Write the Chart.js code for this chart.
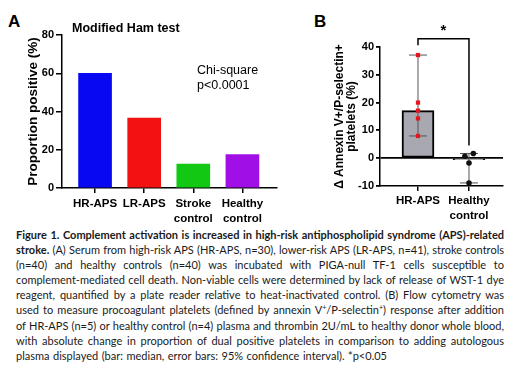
<!DOCTYPE html>
<html>
<head>
<meta charset="utf-8">
<script src="https://cdn.jsdelivr.net/npm/chart.js@4.4.1/dist/chart.umd.min.js"></script>
<style>
    body { margin: 0; width: 520px; height: 369px; background: #fff; position: relative; overflow: hidden; font-family: "Liberation Sans", Arial, sans-serif; }
    .panel-letter { position: absolute; top: 13px; font-weight: bold; font-size: 17px; line-height: 17px; color: #000; }
    .chart-box { position: absolute; top: 0; height: 225px; }
    #caption { position: absolute; left: 16px; top: 227px; width: 488px; font-family: Lato, "Open Sans", sans-serif; font-size: 11px; color: #1a1a1a; }
    .cap-line { height: 15.1px; line-height: 15.1px; white-space: nowrap; }
    .cap-line .txt { display: inline-block; transform-origin: left center; }
    sup { font-size: 0.65em; vertical-align: 0.5em; line-height: 0; }
</style>
</head>
<body>
<div class="panel-letter" style="left:8px">A</div>
<div class="panel-letter" style="left:314px">B</div>
<div class="chart-box" style="left:0; width:280px"><canvas id="hamChart" width="280" height="225"></canvas></div>
<div class="chart-box" style="left:280px; width:240px"><canvas id="plateletChart" width="240" height="225"></canvas></div>

<div id="caption">
    <div class="cap-line" data-w="488"><span class="txt"><b>Figure 1. Complement activation is increased in high-risk antiphospholipid syndrome (APS)-related</b></span></div>
    <div class="cap-line" data-w="488"><span class="txt"><b>stroke.</b> (A) Serum from high-risk APS (HR-APS, n=30), lower-risk APS (LR-APS, n=41), stroke controls</span></div>
    <div class="cap-line" data-w="488"><span class="txt">(n=40) and healthy controls (n=40) was incubated with PIGA-null TF-1 cells susceptible to</span></div>
    <div class="cap-line" data-w="488"><span class="txt">complement-mediated cell death. Non-viable cells were determined by lack of release of WST-1 dye</span></div>
    <div class="cap-line" data-w="488"><span class="txt">reagent, quantified by a plate reader relative to heat-inactivated control. (B) Flow cytometry was</span></div>
    <div class="cap-line" data-w="488"><span class="txt">used to measure procoagulant platelets (defined by annexin V<sup>+</sup>/P-selectin<sup>+</sup>) response after addition</span></div>
    <div class="cap-line" data-w="488"><span class="txt">of HR-APS (n=5) or healthy control (n=4) plasma and thrombin 2U/mL to healthy donor whole blood,</span></div>
    <div class="cap-line" data-w="488"><span class="txt">with absolute change in proportion of dual positive platelets in comparison to adding autologous</span></div>
    <div class="cap-line" data-w="371"><span class="txt">plasma displayed (bar: median, error bars: 95% confidence interval). *p&lt;0.05</span></div>
</div>

<script>
// Panel A - modified Ham test
const hamCategories = ['HR-APS', 'LR-APS', ['Stroke', 'control'], ['Healthy', 'control']];
const hamPositive = [60, 36.6, 12.5, 17.5];
const hamTicks = [0, 20, 40, 60, 80];

// Panel B - procoagulant platelets
const plateletCategories = ['HR-APS', ['Healthy', 'control']];
const plateletMedian = [17.1, -0.5];
const hrApsPoints = [37.1, 20.0, 17.1, 14.3, 8.0];
const healthyPoints = [1.7, 0.7, -1.7, -8.9];
const healthyJitter = [0.085, -0.08, 0, 0];
const ciLow = [8.0, -8.9];
const ciHigh = [37.1, 1.7];
const plateletTicks = [-10, 0, 10, 20, 30, 40];

const hamColors = ['#0808f2', '#f21212', '#12c812', '#a010e6'];
const axisFont = { family: '"Liberation Sans", Arial, sans-serif', weight: 'bold' };

// fit each caption line to its width (justified look)
document.querySelectorAll('.cap-line').forEach(function (line) {
    const span = line.querySelector('.txt');
    const target = parseFloat(line.dataset.w);
    const natural = span.getBoundingClientRect().width;
    const gaps = (span.textContent.match(/ /g) || []).length;
    if (natural > target) {
        span.style.transform = `scaleX(${target / natural})`;
    } else if (gaps) {
        span.style.wordSpacing = ((target - natural) / gaps) + 'px';
    }
});

const hamText = {
    id: 'hamText',
    afterDraw(chart) {
        const { ctx, chartArea } = chart;
        ctx.save();
        ctx.fillStyle = '#000';
        ctx.textBaseline = 'middle';
        ctx.font = 'bold 12.5px "Liberation Sans", Arial, sans-serif';
        ctx.fillText('Modified Ham test', chartArea.left + 10, chartArea.top - 6);
        ctx.font = '12.5px "Liberation Sans", Arial, sans-serif';
        ctx.fillText('Chi-square', chartArea.left + 135, chartArea.top + 36);
        ctx.fillText('p<0.0001', chartArea.left + 135, chartArea.top + 51);
        ctx.restore();
    }
};

new Chart(document.getElementById('hamChart'), {
    type: 'bar',
    data: {
        datasets: [{
            data: hamPositive.map((v, i) => ({ x: i, y: v })),
            backgroundColor: hamColors,
            borderWidth: 0,
            barThickness: 33
        }]
    },
    options: {
        responsive: false,
        animation: false,
        layout: { padding: { top: 35, right: 3, left: 0, bottom: 0 } },
        plugins: { legend: { display: false }, tooltip: { enabled: false } },
        scales: {
            x: {
                type: 'linear', min: -0.673, max: 3.704, offset: false,
                afterBuildTicks: s => { s.ticks = hamCategories.map((c, i) => ({ value: i })); },
                afterFit: s => { s.height = 37; },
                ticks: {
                    callback: v => hamCategories[v],
                    color: '#000', padding: 4, maxRotation: 0, autoSkip: false,
                    font: { ...axisFont, size: 11.5, lineHeight: 1.25 }
                },
                grid: { offset: false, drawOnChartArea: false, color: '#000', tickLength: 5, lineWidth: 1.5 },
                border: { color: '#000', width: 1.5 }
            },
            y: {
                min: 0, max: 80,
                afterBuildTicks: s => { s.ticks = hamTicks.map(v => ({ value: v })); },
                afterFit: s => { s.width = 62; },
                ticks: { color: '#000', padding: 2, font: { ...axisFont, size: 11 } },
                grid: { drawOnChartArea: false, color: '#000', tickLength: 6, lineWidth: 1.5 },
                border: { color: '#000', width: 1.5 },
                title: {
                    display: true, text: 'Proportion positive (%)', color: '#000',
                    padding: { top: 25, bottom: 0 },
                    font: { ...axisFont, size: 13.5 }
                }
            }
        }
    },
    plugins: [hamText]
});

const plateletExtras = {
    id: 'plateletExtras',
    afterDatasetDraw(chart, args) {
        if (args.index !== 0) return;
        const { ctx, scales: { x, y } } = chart;
        ctx.save();
        ctx.strokeStyle = '#555';
        ctx.lineWidth = 1;
        ciLow.forEach((lo, i) => {
            const px = x.getPixelForValue(i);
            const top = y.getPixelForValue(ciHigh[i]);
            const bot = y.getPixelForValue(lo);
            ctx.beginPath();
            ctx.moveTo(px, top); ctx.lineTo(px, bot);
            ctx.moveTo(px - 9, top); ctx.lineTo(px + 9, top);
            ctx.moveTo(px - 9, bot); ctx.lineTo(px + 9, bot);
            ctx.stroke();
        });
        ctx.restore();
    },
    afterDraw(chart) {
        const { ctx, scales: { x, y } } = chart;
        const x0 = x.getPixelForValue(0), x1 = x.getPixelForValue(1);
        const top = y.getPixelForValue(43);
        ctx.save();
        ctx.strokeStyle = '#000';
        ctx.lineWidth = 1.5;
        ctx.beginPath();
        ctx.moveTo(x0, y.getPixelForValue(40.6));
        ctx.lineTo(x0, top);
        ctx.lineTo(x1, top);
        ctx.lineTo(x1, y.getPixelForValue(4.6));
        ctx.stroke();
        ctx.fillStyle = '#000';
        ctx.textAlign = 'center';
        ctx.textBaseline = 'middle';
        ctx.font = 'bold 15px "Liberation Sans", Arial, sans-serif';
        ctx.fillText('*', (x0 + x1) / 2, top - 8);
        ctx.restore();
    }
};

new Chart(document.getElementById('plateletChart'), {
    type: 'bar',
    data: {
        datasets: [
            {
                type: 'bar', order: 2,
                data: plateletMedian.map((v, i) => ({ x: i, y: v })),
                backgroundColor: '#a8a8b0', borderColor: '#000', borderWidth: 2,
                borderSkipped: false, barThickness: 32
            },
            {
                type: 'scatter', order: 0,
                data: hrApsPoints.map(v => ({ x: 0, y: v })),
                pointStyle: 'rect', pointRadius: 3, backgroundColor: '#e8141e', borderWidth: 0
            },
            {
                type: 'scatter', order: 0,
                data: healthyPoints.map((v, i) => ({ x: 1 + healthyJitter[i], y: v })),
                pointStyle: 'circle', pointRadius: 2.8, backgroundColor: '#111', borderWidth: 0
            }
        ]
    },
    options: {
        responsive: false,
        animation: false,
        layout: { padding: { top: 47, right: 17, left: 0, bottom: 0 } },
        plugins: { legend: { display: false }, tooltip: { enabled: false } },
        scales: {
            x: {
                type: 'linear', min: -0.745, max: 1.667, offset: false,
                afterBuildTicks: s => { s.ticks = plateletCategories.map((c, i) => ({ value: i })); },
                afterFit: s => { s.height = 39; },
                ticks: {
                    callback: v => plateletCategories[v],
                    color: '#000', padding: 3, maxRotation: 0, autoSkip: false,
                    font: { ...axisFont, size: 11.5, lineHeight: 1.25 }
                },
                grid: { offset: false, drawOnChartArea: false, color: '#000', tickLength: 5, lineWidth: 1.5 },
                border: { color: '#000', width: 1.5 }
            },
            y: {
                min: -10, max: 40,
                afterBuildTicks: s => { s.ticks = plateletTicks.map(v => ({ value: v })); },
                afterFit: s => { s.width = 100; },
                ticks: { color: '#000', padding: 2, font: { ...axisFont, size: 11 } },
                grid: {
                    color: ctx => (ctx.tick && ctx.tick.value === 0 ? '#000' : 'rgba(0,0,0,0)'),
                    tickColor: '#000', tickLength: 4, lineWidth: 1.8
                },
                border: { color: '#000', width: 1.5 },
                title: {
                    display: true, text: ['Δ Annexin V+/P-selectin+', 'platelets (%)'], color: '#000',
                    padding: { top: 54, bottom: 0 },
                    font: { ...axisFont, size: 12, lineHeight: 1.0 }
                }
            }
        }
    },
    plugins: [plateletExtras]
});
</script>
</body>
</html>
